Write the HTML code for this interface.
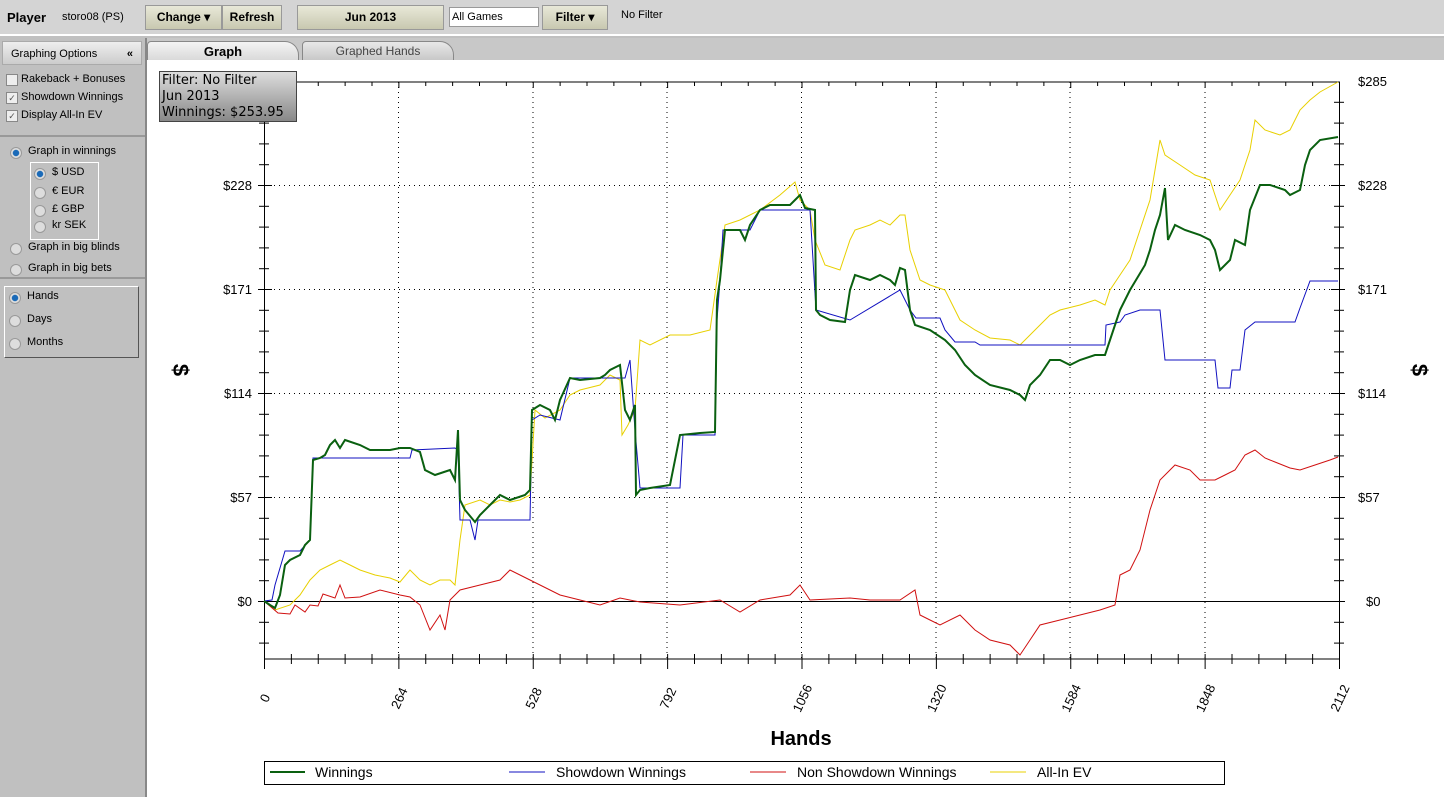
<!DOCTYPE html>
<html><head><meta charset="utf-8"><style>
body{margin:0;width:1444px;height:797px;overflow:hidden;background:#c0c0c0;font-family:Tahoma,"Liberation Sans",sans-serif;font-size:11px;position:relative}
.top{position:absolute;left:0;top:0;width:1444px;height:34px;background:#d4d4d4;border-bottom:2px solid #fff}
.btn{position:absolute;top:5px;height:23px;background:linear-gradient(#e8e8d8,#c8c8b0);border:1px solid #999;font-weight:bold;font-size:12px;line-height:23px;text-align:center}
.side{position:absolute;left:0;top:38px;width:145px;height:759px;background:#c0c0c0;border-right:2px solid #888}
.cb{position:absolute;left:6px;width:10px;height:10px;border:1px solid #888;background:#eee;font-size:9px;line-height:10px;text-align:center;color:#555}
.rd{position:absolute;width:10px;height:10px;border-radius:50%;border:1px solid #999;background:#ddd}
.rd.on{background:radial-gradient(#1a6ab8 40%,#ddd 50%)}
.lab{position:absolute;font-size:11px;color:#000}
.main{position:absolute;left:147px;top:60px;width:1297px;height:737px;background:#fff}
</style></head><body>
<div class="top">
<div class="lab" style="left:7px;top:10px;font-weight:bold;font-size:13px">Player</div>
<div class="lab" style="left:62px;top:11px">storo08 (PS)</div>
<div class="btn" style="left:145px;width:75px">Change ▾</div>
<div class="btn" style="left:222px;width:58px">Refresh</div>
<div class="btn" style="left:297px;width:145px">Jun 2013</div>
<div style="position:absolute;left:449px;top:7px;width:86px;height:18px;background:#fff;border:1px solid #999;font-size:11px;line-height:18px;padding-left:2px">All Games</div>
<div class="btn" style="left:542px;width:64px">Filter ▾</div>
<div class="lab" style="left:621px;top:9px">No Filter</div>
</div>
<div class="side">
<div style="position:absolute;left:2px;top:3px;width:140px;height:24px;background:linear-gradient(#eee,#ccc);border:1px solid #aaa;line-height:24px;padding-left:8px;box-sizing:border-box">Graphing Options <span style="float:right;margin-right:8px;font-weight:bold">«</span></div>
<div class="cb" style="top:36px"></div><div class="lab" style="left:21px;top:35px">Rakeback + Bonuses</div>
<div class="cb" style="top:54px">✓</div><div class="lab" style="left:21px;top:53px">Showdown Winnings</div>
<div class="cb" style="top:72px">✓</div><div class="lab" style="left:21px;top:71px">Display All-In EV</div>
<div style="position:absolute;left:0;top:97px;width:145px;border-top:2px solid #999"></div>
<div class="rd on" style="left:10px;top:109px"></div><div class="lab" style="left:28px;top:107px">Graph in winnings</div>
<div style="position:absolute;left:30px;top:124px;width:67px;height:76px;border:1px solid #fff"></div>
<div class="rd on" style="left:34px;top:130px"></div><div class="lab" style="left:52px;top:128px">$ USD</div>
<div class="rd" style="left:34px;top:149px"></div><div class="lab" style="left:52px;top:147px">€ EUR</div>
<div class="rd" style="left:34px;top:167px"></div><div class="lab" style="left:52px;top:165px">£ GBP</div>
<div class="rd" style="left:34px;top:183px"></div><div class="lab" style="left:52px;top:181px">kr SEK</div>
<div class="rd" style="left:10px;top:205px"></div><div class="lab" style="left:28px;top:203px">Graph in big blinds</div>
<div class="rd" style="left:10px;top:226px"></div><div class="lab" style="left:28px;top:224px">Graph in big bets</div>
<div style="position:absolute;left:0;top:239px;width:145px;border-top:2px solid #999"></div>
<div style="position:absolute;left:4px;top:248px;width:133px;height:70px;border:1px solid #fff;border-right-color:#555;border-bottom-color:#555"></div>
<div class="rd on" style="left:9px;top:254px"></div><div class="lab" style="left:27px;top:252px">Hands</div>
<div class="rd" style="left:9px;top:277px"></div><div class="lab" style="left:27px;top:275px">Days</div>
<div class="rd" style="left:9px;top:300px"></div><div class="lab" style="left:27px;top:298px">Months</div>
</div>
<div style="position:absolute;left:147px;top:38px;width:1297px;height:22px;background:#c8c8c8"></div>
<div style="position:absolute;left:147px;top:41px;width:150px;height:19px;background:linear-gradient(#f4f4f4,#d8d8d8);border:1px solid #888;border-bottom:none;border-radius:4px 14px 0 0;text-align:center;font-weight:bold;font-size:13px;line-height:19px">Graph</div>
<div style="position:absolute;left:302px;top:41px;width:150px;height:18px;background:linear-gradient(#e8e8e8,#c8c8c8);border:1px solid #888;border-radius:4px 14px 0 0;text-align:center;font-size:12px;line-height:18px;color:#444">Graphed Hands</div>
<div class="main"></div>
<svg style="position:absolute;left:0;top:0" width="1444" height="797" font-family="Liberation Sans, sans-serif">
<g stroke="#000" stroke-width="1" stroke-dasharray="1,4">
<line x1="398.5" y1="82" x2="398.5" y2="659"/><line x1="533" y1="82" x2="533" y2="659"/><line x1="667" y1="82" x2="667" y2="659"/><line x1="801.5" y1="82" x2="801.5" y2="659"/><line x1="936" y1="82" x2="936" y2="659"/><line x1="1070" y1="82" x2="1070" y2="659"/><line x1="1205" y1="82" x2="1205" y2="659"/>
<line x1="264" y1="185.5" x2="1339" y2="185.5"/><line x1="264" y1="289.5" x2="1339" y2="289.5"/><line x1="264" y1="393.5" x2="1339" y2="393.5"/><line x1="264" y1="497.5" x2="1339" y2="497.5"/>
</g>
<g stroke="#000" fill="none">
<path d="M264.5 82V659H1339.5V82H264.5"/>
<line x1="264" y1="601.5" x2="1339" y2="601.5"/>
</g>
<g id="ticks" stroke="#000"></g>
<g font-size="13" fill="#000">
<text x="252" y="606" text-anchor="end">$0</text><text x="252" y="502" text-anchor="end">$57</text><text x="252" y="398" text-anchor="end">$114</text><text x="252" y="294" text-anchor="end">$171</text><text x="252" y="190" text-anchor="end">$228</text>
<text x="1366" y="606">$0</text><text x="1358" y="502">$57</text><text x="1358" y="398">$114</text><text x="1358" y="294">$171</text><text x="1358" y="190">$228</text><text x="1358" y="86">$285</text>
</g>
<g id="xl" font-size="13" fill="#000"></g>
<text x="801" y="745" font-size="20" font-weight="bold" text-anchor="middle">Hands</text>
<text transform="translate(173,370) rotate(90)" font-size="22" font-weight="bold" text-anchor="middle">$</text>
<text transform="translate(1412,370) rotate(90)" font-size="22" font-weight="bold" text-anchor="middle">$</text>
<polyline fill="none" stroke="#e8d000" stroke-width="1" points="264,601 275,610 290,605 300,595 310,580 320,570 330,565 340,560 350,565 360,570 375,575 390,578 400,582 410,570 420,580 430,585 440,580 450,580 455,585 460,540 465,505 480,500 490,505 500,500 510,502 520,500 530,495 535,410 545,418 560,410 570,395 580,390 600,385 610,375 620,380 622,435 628,425 635,410 640,340 650,345 670,335 690,335 710,330 717,280 725,225 740,220 760,210 780,195 795,182 800,200 810,210 815,240 825,265 840,270 850,240 855,230 870,225 880,220 890,225 895,220 900,215 905,215 910,250 920,280 930,285 945,290 950,300 960,320 975,330 990,338 1010,340 1020,345 1030,335 1040,325 1050,315 1060,310 1080,305 1095,300 1105,305 1110,290 1120,275 1130,260 1140,230 1150,200 1160,140 1165,155 1180,165 1195,175 1210,180 1220,210 1230,195 1240,180 1250,150 1255,120 1265,130 1280,135 1290,130 1300,110 1310,100 1320,92 1338,82"/>
<polyline fill="none" stroke="#d01010" stroke-width="1" points="264,601 278,613 290,614 295,605 305,612 310,605 318,606 323,594 335,598 340,585 345,598 360,597 380,590 400,595 410,597 420,605 430,630 440,615 445,630 450,600 460,590 480,585 500,580 510,570 520,575 540,585 560,595 580,600 600,605 620,598 640,602 680,605 720,600 740,612 760,600 790,595 800,585 810,600 850,598 870,600 900,600 915,590 920,615 930,620 940,625 960,615 975,630 990,640 1010,645 1020,655 1030,640 1040,625 1060,620 1080,615 1100,610 1115,605 1120,575 1130,570 1140,550 1150,510 1160,480 1175,465 1190,470 1200,480 1215,480 1225,475 1235,470 1245,455 1255,450 1265,458 1275,462 1290,468 1300,470 1315,465 1330,460 1338,457"/>
<polyline fill="none" stroke="#1010c0" stroke-width="1" points="264,601 272,600 275,585 285,551 300,551 310,540 313,458 410,458 412,450 455,448 458,450 460,520 470,520 475,540 478,520 530,520 532,420 540,415 560,420 570,378 625,378 630,360 635,430 640,488 680,488 683,435 715,435 717,320 720,280 723,230 750,230 760,210 810,210 816,310 850,320 900,290 910,310 916,318 940,318 945,330 955,342 975,342 980,345 1105,345 1106,325 1120,322 1125,315 1140,310 1160,310 1165,360 1215,360 1218,388 1230,388 1232,370 1240,370 1245,330 1255,322 1295,322 1300,308 1310,281 1338,281"/>
<polyline fill="none" stroke="#0a6010" stroke-width="2" points="264,601 270,605 275,608 280,595 285,565 290,560 300,555 305,545 310,540 313,460 320,458 325,455 330,445 335,440 340,448 345,440 360,445 370,450 390,450 400,448 410,448 420,452 425,470 435,475 450,470 455,480 458,430 460,500 465,510 475,522 480,515 490,505 500,495 510,500 525,495 530,490 532,410 540,405 550,410 555,420 560,400 570,378 580,380 600,378 605,375 610,370 620,365 625,410 630,420 635,405 636,495 640,490 650,488 670,485 680,435 700,433 715,432 717,300 720,280 725,230 740,230 745,240 750,225 760,210 770,205 790,205 795,200 800,195 805,208 815,210 816,310 820,315 830,320 845,322 850,290 855,275 870,280 880,275 890,280 895,285 900,268 905,270 910,310 915,325 930,330 945,340 955,350 965,365 975,375 990,385 1010,390 1020,395 1025,400 1030,385 1040,375 1050,360 1060,360 1070,365 1080,360 1095,355 1105,355 1110,340 1120,310 1130,290 1145,265 1150,250 1155,230 1160,215 1165,188 1168,240 1175,225 1185,230 1200,235 1210,240 1215,250 1220,270 1230,260 1235,240 1245,245 1250,210 1260,185 1270,185 1285,190 1290,195 1300,190 1305,165 1310,150 1320,140 1338,137"/>
<rect x="264.5" y="761.5" width="960" height="23" fill="#fff" stroke="#000"/>
<g font-size="14" fill="#000">
<line x1="270" y1="772" x2="305" y2="772" stroke="#0a6010" stroke-width="2"/><text x="315" y="777">Winnings</text>
<line x1="509" y1="772" x2="545" y2="772" stroke="#1010c0"/><text x="556" y="777">Showdown Winnings</text>
<line x1="750" y1="772" x2="786" y2="772" stroke="#d01010"/><text x="797" y="777">Non Showdown Winnings</text>
<line x1="990" y1="772" x2="1026" y2="772" stroke="#e8d000"/><text x="1037" y="777">All-In EV</text>
</g>
</svg>
<div style="position:absolute;left:159px;top:71px;width:138px;height:51px;background:linear-gradient(#ddd,#888);border:1px solid #444;font-size:13px;line-height:16px;padding:1px 2px;box-sizing:border-box;font-family:'DejaVu Sans',sans-serif">Filter: No Filter<br>Jun 2013<br>Winnings: $253.95</div>
<script>
var ns="http://www.w3.org/2000/svg",g=document.getElementById("ticks"),xl=document.getElementById("xl");
function L(a,b,c,d){var l=document.createElementNS(ns,"line");l.setAttribute("x1",a);l.setAttribute("y1",b);l.setAttribute("x2",c);l.setAttribute("y2",d);g.appendChild(l);}
for(var i=0;i<=40;i++){var x=264.5+i*1075/40;if(i%5==0){L(x,654,x,669);}else L(x,654,x,664);}
for(var i=0;i<=8;i++){var x=264+i*1075/8;var t=document.createElementNS(ns,"text");t.setAttribute("transform","translate("+(x+5)+",700) rotate(-65)");t.setAttribute("text-anchor","middle");t.textContent=String(i*264);xl.appendChild(t);}
for(var k=-3;k<=26;k++){var y=601.5-k*20.8;if(y<82||y>659)continue;var m=(k%5==0);L(m?258:259,y,m?272:269,y);L(m?1331:1334,y,m?1345:1344,y);}
for(var k=0;k<=40;k++){var x=264.5+k*1075/40;L(x,82,x,k%5==0?88:86);}
</script>
</body></html>
